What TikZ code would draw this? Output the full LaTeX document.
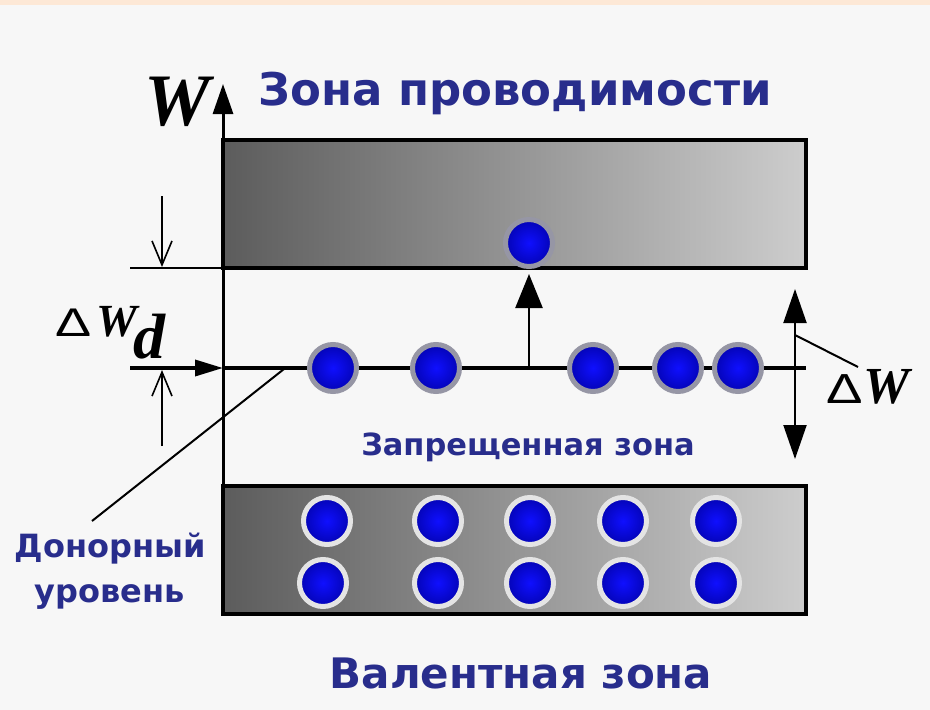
\documentclass[tikz,border=0pt]{standalone}
\usepackage{fontspec}
\setmainfont{Liberation Serif}
\newfontfamily\lblfont{DejaVu Sans}
\newfontfamily\symfont{Liberation Sans}
\usetikzlibrary{arrows.meta}
\definecolor{bg}{RGB}{247,247,247}
\definecolor{peach}{RGB}{253,232,214}
\definecolor{txt}{RGB}{40,45,140}
\definecolor{bandL}{RGB}{92,92,92}
\definecolor{bandR}{RGB}{205,205,205}
\definecolor{eIn}{RGB}{15,15,255}
\definecolor{eMid}{RGB}{5,5,190}
\definecolor{eOut}{RGB}{0,0,80}
\definecolor{ringD}{RGB}{150,150,165}
\definecolor{ringV}{RGB}{228,228,228}
\pgfdeclareradialshading{eball}{\pgfpoint{0bp}{0bp}}{color(0bp)=(eIn); color(22bp)=(eMid); color(50bp)=(eOut)}
\begin{document}
\begin{tikzpicture}[x=1pt,y=-1pt,
  every node/.style={inner sep=0pt,outer sep=0pt},
  band/.style={rectangle,draw=black,line width=4pt,left color=bandL,right color=bandR,
    minimum width=583pt,minimum height=128pt},
  electron/.style={circle,minimum size=47pt,draw=#1,line width=5pt,shading=eball},
  lbl/.style={text=txt,font=\lblfont\bfseries},
  barb/.style={-{Straight Barb[length=24pt,width=20pt,line width=1.6pt]}},
  heavy/.style={line width=3.5pt},
  thin/.style={line width=2pt}]
\useasboundingbox (0,0) rectangle (930,710);
\fill[bg] (0,0) rectangle (930,710);
\fill[peach] (0,0) rectangle (930,5);
% bands
\node[band] (cb) at (514.5,204) {};
\node[band] (vb) at (514.5,549.5) {};
% axis
\coordinate (ax0) at (223,614);
\coordinate (ax1) at (223,84);
\draw[line width=3pt,-{Triangle[length=30pt,width=20pt]}] (ax0) -- (ax1);
% donor level
\coordinate (dl0) at (130,368);
\coordinate (dl1) at (223,368);
\coordinate (dl2) at (806,368);
\draw[heavy] (dl1) -- (dl2);
\draw[heavy,-{Triangle[length=28pt,width=16pt]}] (dl0) -- (dl1);
% extension line
\coordinate (ex0) at (130,268);
\draw[thin] (ex0) -- (cb.south west);
% dimension arrows
\coordinate (da0) at (162,196);
\coordinate (da1) at (162,267);
\coordinate (db0) at (162,446);
\coordinate (db1) at (162,370);
\draw[thin,barb] (da0) -- (da1);
\draw[thin,barb] (db0) -- (db1);
% excitation arrow
\coordinate (ea0) at (529,368);
\coordinate (ea1) at (529,274);
\draw[line width=2.5pt,-{Triangle[length=34pt,width=27pt]}] (ea0) -- (ea1);
% Delta W arrow
\coordinate (gw0) at (795,289);
\coordinate (gw1) at (795,459);
\draw[thin,{Triangle[length=34pt,width=23pt]}-{Triangle[length=34pt,width=23pt]}] (gw0) -- (gw1);
% electrons
\node[electron=ringD] (c1) at (529,243) {};
\node[electron=ringD] (d1) at (333,368) {};
\node[electron=ringD] (d2) at (436,368) {};
\node[electron=ringD] (d3) at (593,368) {};
\node[electron=ringD] (d4) at (678,368) {};
\node[electron=ringD] (d5) at (738,368) {};
\node[electron=ringV] (v1) at (327,521) {};
\node[electron=ringV] (v2) at (438,521) {};
\node[electron=ringV] (v3) at (530,521) {};
\node[electron=ringV] (v4) at (623,521) {};
\node[electron=ringV] (v5) at (716,521) {};
\node[electron=ringV] (v6) at (323,583) {};
\node[electron=ringV] (v7) at (438,583) {};
\node[electron=ringV] (v8) at (530,583) {};
\node[electron=ringV] (v9) at (623,583) {};
\node[electron=ringV] (v10) at (716,583) {};
% labels
\node[lbl,anchor=base] (tcb) at (515,105) {\fontsize{45}{50}\selectfont Зона проводимости};
\node[lbl,anchor=base] (tvb) at (521,688) {\fontsize{42}{50}\selectfont Валентная зона};
\node[lbl,anchor=base] (tgap) at (528,455) {\fontsize{30.5}{32}\selectfont Запрещенная зона};
\node[lbl,anchor=base] (tdon1) at (110,557) {\fontsize{32}{40}\selectfont Донорный};
\node[lbl,anchor=base] (tdon2) at (110,602) {\fontsize{32}{40}\selectfont уровень};
\node[anchor=base] (tW) at (177,125) {\fontsize{74}{74}\selectfont\bfseries\itshape W};
\node[anchor=base west] (tdwd) at (56,336) {\scalebox{1.35}[1]{\symfont\fontsize{40}{40}\selectfont Δ}\hspace{4pt}{\fontsize{46}{46}\selectfont\bfseries\itshape W}\hspace{-3pt}\raisebox{-22pt}{\fontsize{64}{64}\selectfont\bfseries\itshape d}};
\node[anchor=base west] (tdw) at (826,403) {\scalebox{1.3}[1]{\symfont\fontsize{42}{42}\selectfont Δ}\hspace{1pt}{\fontsize{52}{52}\selectfont\bfseries\itshape W}};
% leaders
\coordinate (ld0) at (92,521);
\coordinate (ld1) at (284,369);
\draw[thin] (ld0) -- (ld1);
\coordinate (lw0) at (795,335);
\coordinate (lw1) at (858,367);
\draw[thin] (lw0) -- (lw1);
\end{tikzpicture}
\end{document}
